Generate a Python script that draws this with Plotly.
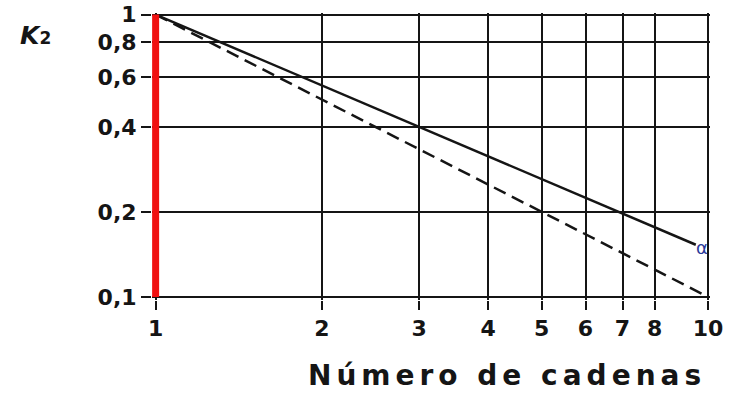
import numpy as np
import plotly.graph_objects as go

# Number of chains and the K2 reduction factor
n_solid = [1, 9.5]
k2_solid = [1.0, 0.153]
n_dashed = [1, 10]
k2_dashed = [1.0, 0.1]
n_red = [1, 1]
k2_red = [0.1, 1.0]

x_tickvals = [1, 2, 3, 4, 5, 6, 7, 8, 10]
x_ticktext = ["1", "2", "3", "4", "5", "6", "7", "8", "10"]
x_extra_grid = [9]
y_tickvals = [0.1, 0.2, 0.4, 0.6, 0.8, 1.0]
y_ticktext = ["0,1", "0,2", "0,4", "0,6", "0,8", "1"]
y_extra_grid = [0.3, 0.5, 0.7, 0.9]

FONT = "DejaVu Sans"
INK = "#151515"


def spaced(txt, px):
    return f"<span style='letter-spacing:{px}px'>{txt}</span>"


fig = go.Figure()
fig.add_trace(go.Scatter(x=n_dashed, y=k2_dashed, mode="lines",
                         line=dict(color=INK, width=2.5, dash="13px,7px"),
                         showlegend=False))
fig.add_trace(go.Scatter(x=n_solid, y=k2_solid, mode="lines",
                         line=dict(color=INK, width=2.5), showlegend=False))
fig.add_trace(go.Scatter(x=n_red, y=k2_red, mode="lines",
                         line=dict(color="#f01010", width=7), showlegend=False))

fig.update_xaxes(
    type="log", range=[np.log10(0.985), np.log10(10.08)],
    tickvals=x_tickvals, ticktext=x_ticktext,
    ticks="outside", ticklen=9, tickwidth=2, tickcolor=INK,
    showgrid=True, gridcolor=INK, gridwidth=2,
    tickfont=dict(family=FONT, size=22, weight="bold", color=INK),
    showline=False, zeroline=False, automargin=False,
)
fig.update_yaxes(
    type="log", range=[np.log10(0.0975), np.log10(1.013)],
    tickvals=y_tickvals, ticktext=y_ticktext,
    ticks="outside", ticklen=10, tickwidth=2, tickcolor=INK,
    showgrid=True, gridcolor=INK, gridwidth=2,
    tickfont=dict(family=FONT, size=22, weight="bold", color=INK),
    showline=False, zeroline=False, automargin=False,
)

# Unlabelled grid lines (log axes take shape coordinates in log units)
for v in y_extra_grid:
    fig.add_shape(type="line", xref="paper", yref="y", x0=0, x1=1,
                  y0=np.log10(v), y1=np.log10(v), layer="below",
                  line=dict(color=INK, width=2))
for v in x_extra_grid:
    fig.add_shape(type="line", xref="x", yref="paper", y0=0, y1=1,
                  x0=np.log10(v), x1=np.log10(v), layer="below",
                  line=dict(color=INK, width=2))

fig.add_annotation(text="<i>K</i><span style='font-size:17px'>2</span>",
                   xref="paper", yref="paper", x=-0.208, y=0.92,
                   xanchor="center", yanchor="middle", showarrow=False,
                   font=dict(family=FONT, size=25, weight="bold", color=INK))
fig.add_annotation(text=spaced("Número de cadenas", 5),
                   xref="paper", yref="paper", x=0.636, y=-0.262,
                   xanchor="center", yanchor="middle", showarrow=False,
                   font=dict(family=FONT, size=28, weight="bold", color=INK))
fig.add_annotation(text="α", xref="x", yref="y",
                   x=np.log10(9.75), y=np.log10(0.15),
                   xanchor="center", yanchor="middle", showarrow=False,
                   font=dict(family=FONT, size=18, color="#2a3a9a"))

fig.update_layout(
    width=729, height=393, autosize=False,
    margin=dict(l=152, r=19, t=13, b=93),
    paper_bgcolor="white", plot_bgcolor="rgba(0,0,0,0)",
)

fig.write_html("out.html")
